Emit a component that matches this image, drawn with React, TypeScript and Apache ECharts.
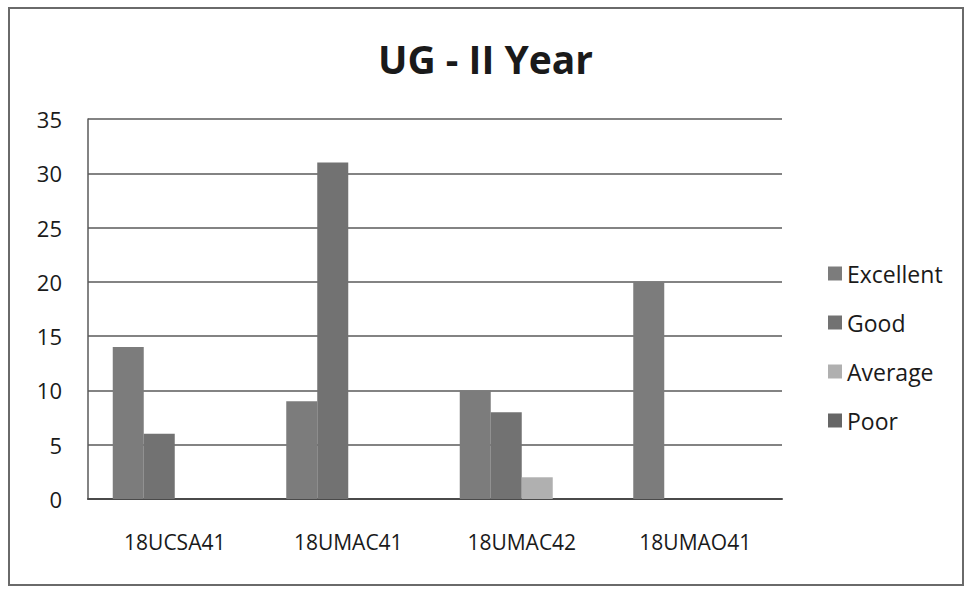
import React, { useEffect, useRef } from "react";
import * as echarts from "echarts";

const categories = ["18UCSA41", "18UMAC41", "18UMAC42", "18UMAO41"];
const seriesNames = ["Excellent", "Good", "Average", "Poor"];
const excellent = [14, 9, 10, 20];
const good = [6, 31, 8, 0];
const average = [0, 0, 2, 0];
const poor = [0, 0, 0, 0];
const yTicks = [0, 5, 10, 15, 20, 25, 30, 35];

const colors = ["#7c7c7c", "#727272", "#b0b0b0", "#666666"];
const FONT = "'Open Sans', 'Noto Sans', sans-serif";

export default function App() {
  const ref = useRef<HTMLDivElement>(null);
  useEffect(() => {
    if (!ref.current) return;
    const chart = echarts.init(ref.current, null, { renderer: "svg" });
    const values = [excellent, good, average, poor];
    chart.setOption({
      animation: false,
      backgroundColor: "#ffffff",
      textStyle: { fontFamily: FONT },
      title: {
        text: "UG - II Year",
        left: "center",
        top: 34,
        textStyle: { fontFamily: FONT, fontSize: 39, fontWeight: "bold", color: "#1a1a1a" },
      },
      legend: {
        orient: "vertical",
        left: 823,
        top: 257,
        itemWidth: 14,
        itemHeight: 14,
        itemGap: 26,
        icon: "rect",
        data: seriesNames,
        textStyle: { fontFamily: FONT, fontSize: 23, color: "#1a1a1a", lineHeight: 23 },
      },
      grid: { left: 88, right: 189, top: 119, bottom: 93 },
      xAxis: {
        type: "category",
        data: categories,
        axisTick: { show: false },
        axisLine: { show: true, lineStyle: { color: "#4a4a4a", width: 2 } },
        axisLabel: { fontFamily: FONT, fontSize: 21, color: "#1a1a1a", margin: 32 },
      },
      yAxis: {
        type: "value",
        min: yTicks[0],
        max: yTicks[yTicks.length - 1],
        interval: 5,
        axisTick: { show: false },
        axisLine: { show: true, lineStyle: { color: "#5a5a5a", width: 1.5 } },
        splitLine: { show: true, lineStyle: { color: "#5a5a5a", width: 1.5 } },
        axisLabel: { fontFamily: FONT, fontSize: 22, color: "#1a1a1a", margin: 26 },
      },
      series: seriesNames.map((name, i) => ({
        name,
        type: "bar",
        data: values[i],
        barWidth: 31,
        barGap: "0%",
        itemStyle: { color: colors[i] },
      })),
      graphic: [
        {
          type: "rect",
          shape: { x: 9, y: 8, width: 954, height: 577 },
          style: { fill: "none", stroke: "#6a6a6a", lineWidth: 2 },
          silent: true,
        },
      ],
    });
    return () => chart.dispose();
  }, []);
  return (
    <div
      ref={ref}
      style={{ position: "absolute", left: 0, top: 0, width: 971, height: 592 }}
    />
  );
}
